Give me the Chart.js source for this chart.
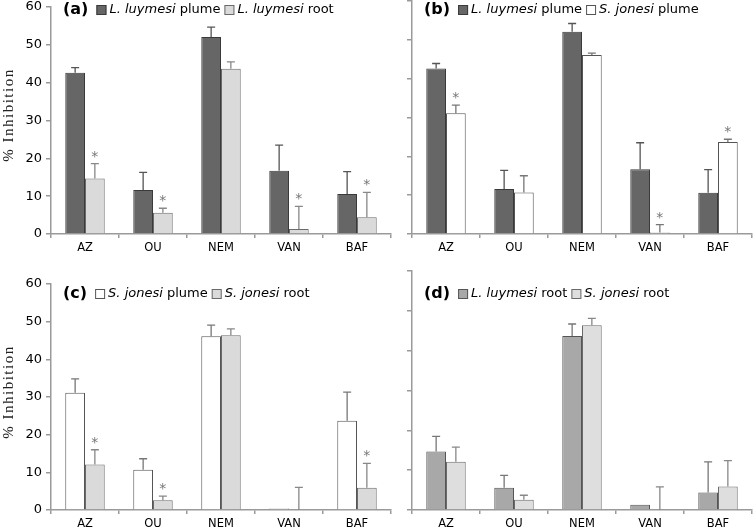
<!DOCTYPE html>
<html>
<head>
<meta charset="utf-8">
<script src="https://cdn.jsdelivr.net/npm/chart.js@4.4.0/dist/chart.umd.min.js"></script>
<style>
  body { margin: 0; background: #fff; }
  #wrap { position: relative; width: 756px; height: 532px; }
  .panel { position: absolute; }
</style>
</head>
<body>
<div id="wrap">
  <div class="panel" style="left:0;top:0;width:393px;height:262px"><canvas id="chartA"></canvas></div>
  <div class="panel" style="left:393px;top:0;width:363px;height:262px"><canvas id="chartB"></canvas></div>
  <div class="panel" style="left:0;top:262px;width:393px;height:270px"><canvas id="chartC"></canvas></div>
  <div class="panel" style="left:393px;top:262px;width:363px;height:270px"><canvas id="chartD"></canvas></div>
</div>
<script>
// data
const categories = ['AZ', 'OU', 'NEM', 'VAN', 'BAF'];
const yMax = 60;
const yStep = 10;

// mean % inhibition
const llPlume = [42.6, 11.6, 52.1, 16.7, 10.6];
const llRoot  = [14.7, 5.6, 43.7, 1.3, 4.4];
const sjPlume = [31.1, 10.7, 46.1, 0.4, 23.7];
const sjRoot  = [12.1, 2.6, 46.4, 0, 5.9];

// error bars (upper half only), per panel
const errA_llPlume = [1.4, 4.7, 2.6, 6.8, 5.9];
const errA_llRoot  = [3.9, 1.2, 1.8, 6.0, 6.6];
const errB_llPlume = [1.3, 4.8, 2.1, 6.8, 6.0];
const errB_sjPlume = [2.1, 4.3, 0.5, 2.0, 0.7];
const errC_sjPlume = [3.7, 2.9, 3.0, 0, 7.6];
const errC_sjRoot  = [3.9, 1.1, 1.7, 6.0, 6.5];
const errD_llRoot  = [3.8, 3.1, 3.0, 0, 7.7];
const errD_sjRoot  = [3.7, 1.1, 1.7, 5.8, 6.5];

// significance asterisks
const starsA = [1, 1, 0, 1, 1];
const starsB = [1, 0, 0, 1, 1];
const starsC = [1, 1, 0, 0, 1];

const FONT = '"DejaVu Sans", Verdana, sans-serif';
const AXIS = '#9a9a9a';

// error bars + asterisks
const errorBars = {
    id: 'errorBars',
    afterDatasetsDraw(chart) {
        const ctx = chart.ctx;
        const y = chart.scales.y;
        chart.data.datasets.forEach((ds, di) => {
            const meta = chart.getDatasetMeta(di);
            meta.data.forEach((bar, i) => {
                const err = ds.errors ? ds.errors[i] : 0;
                const top = y.getPixelForValue(ds.data[i] + err);
                if (err > 0) {
                    ctx.save();
                    ctx.strokeStyle = ds.errColor;
                    ctx.lineWidth = 1.3;
                    ctx.beginPath();
                    ctx.moveTo(bar.x, bar.y);
                    ctx.lineTo(bar.x, top);
                    ctx.moveTo(bar.x - 4, top);
                    ctx.lineTo(bar.x + 4, top);
                    ctx.stroke();
                    ctx.restore();
                }
                if (ds.stars && ds.stars[i]) {
                    ctx.save();
                    ctx.fillStyle = '#777';
                    ctx.font = '14px ' + FONT;
                    ctx.textAlign = 'center';
                    ctx.textBaseline = 'alphabetic';
                    ctx.fillText('*', bar.x, top - 11 + 8);
                    ctx.restore();
                }
            });
        });
    }
};

// "(a) [] L. luymesi plume [] ..." legend inside plot
const panelLegend = {
    id: 'panelLegend',
    afterDraw(chart, args, opts) {
        if (!opts.tag) return;
        const ctx = chart.ctx;
        const cy = opts.y;
        let x = chart.chartArea.left + 12;
        ctx.save();
        ctx.textBaseline = 'middle';
        ctx.fillStyle = '#000';
        ctx.font = 'bold 16px ' + FONT;
        ctx.fillText(opts.tag, x, cy);
        x += ctx.measureText(opts.tag).width + 8;
        opts.items.forEach(it => {
            ctx.fillStyle = it.color;
            ctx.fillRect(x, cy - 5, 10, 10);
            ctx.strokeStyle = it.border;
            ctx.lineWidth = 1;
            ctx.strokeRect(x + 0.5, cy - 4.5, 9, 9);
            x += 13;
            ctx.fillStyle = '#000';
            ctx.font = 'italic 13px ' + FONT;
            ctx.fillText(it.sp, x, cy);
            x += ctx.measureText(it.sp).width;
            ctx.font = '13px ' + FONT;
            ctx.fillText(it.rest, x, cy);
            x += ctx.measureText(it.rest).width + 4;
        });
        ctx.restore();
    }
};

// rotated, letter-spaced serif axis title
const yTitle = {
    id: 'yTitle',
    afterDraw(chart, args, opts) {
        if (!opts.text) return;
        const ctx = chart.ctx;
        ctx.save();
        ctx.translate(opts.x, opts.y);
        ctx.rotate(-Math.PI / 2);
        ctx.font = '15px "Liberation Serif", "Times New Roman", serif';
        if ('letterSpacing' in ctx) ctx.letterSpacing = '1.5px';
        ctx.fillStyle = '#222';
        ctx.textAlign = 'center';
        ctx.textBaseline = 'middle';
        ctx.fillText(opts.text, 0, 0);
        ctx.restore();
    }
};

function bars(label, data, errors, color, border, errColor, stars) {
    return {
        label: label,
        data: data,
        errors: errors,
        stars: stars,
        errColor: errColor,
        backgroundColor: color,
        borderColor: border,
        borderWidth: 1,
        categoryPercentage: 0.58,
        barPercentage: 1.0
    };
}

function makeChart(id, datasets, cfg) {
    return new Chart(document.getElementById(id).getContext('2d'), {
        type: 'bar',
        data: { labels: categories, datasets: datasets },
        plugins: [errorBars, panelLegend, yTitle],
        options: {
            responsive: true,
            maintainAspectRatio: false,
            animation: false,
            layout: { padding: { top: cfg.top, right: cfg.right, left: 0, bottom: 0 } },
            plugins: {
                legend: { display: false },
                tooltip: { enabled: false },
                panelLegend: cfg.legend,
                yTitle: cfg.title || {}
            },
            scales: {
                x: {
                    offset: true,
                    grid: { offset: true, drawOnChartArea: false, tickLength: 4, color: AXIS, lineWidth: 1.5 },
                    border: { color: AXIS, width: 1.5 },
                    ticks: { color: '#000', font: { family: FONT, size: 11.5 }, padding: 3, maxRotation: 0 },
                    afterFit: s => { s.height = cfg.xh; s.paddingLeft = 0; s.paddingRight = 0; }
                },
                y: {
                    min: 0,
                    max: yMax,
                    grid: { drawOnChartArea: false, tickLength: 5, color: AXIS, lineWidth: 1.5 },
                    border: { color: AXIS, width: 1.5 },
                    ticks: { stepSize: yStep, display: cfg.yLabels, color: '#000', font: { family: FONT, size: 13 }, padding: 4 },
                    afterFit: s => { s.width = cfg.yw; s.paddingTop = 0; s.paddingBottom = 0; }
                }
            }
        }
    });
}

const DARK = '#666666', DARK_B = '#3a3a3a';
const LIGHT = '#dadada', LIGHT_B = '#6a6a6a';
const WHITE = '#ffffff', WHITE_B = '#555555';
const MID = '#a8a8a8', MID_B = '#555555';

makeChart('chartA', [
    bars('L. luymesi plume', llPlume, errA_llPlume, DARK, DARK_B, '#555', null),
    bars('L. luymesi root', llRoot, errA_llRoot, LIGHT, LIGHT_B, '#888', starsA)
], {
    top: 7, right: 2, xh: 28, yw: 51, yLabels: true,
    legend: { tag: '(a)', y: 10, items: [
        { sp: 'L. luymesi', rest: ' plume', color: DARK, border: DARK_B },
        { sp: 'L. luymesi', rest: ' root', color: LIGHT, border: LIGHT_B }
    ] },
    title: { text: '% Inhibition', x: 9, y: 115 }
});

makeChart('chartB', [
    bars('L. luymesi plume', llPlume, errB_llPlume, DARK, DARK_B, '#555', null),
    bars('S. jonesi plume', sjPlume, errB_sjPlume, WHITE, WHITE_B, '#777', starsB)
], {
    top: 1, right: 4, xh: 28, yw: 19, yLabels: false,
    legend: { tag: '(b)', y: 10, items: [
        { sp: 'L. luymesi', rest: ' plume', color: DARK, border: DARK_B },
        { sp: 'S. jonesi', rest: ' plume', color: WHITE, border: WHITE_B }
    ] }
});

makeChart('chartC', [
    bars('S. jonesi plume', sjPlume, errC_sjPlume, WHITE, WHITE_B, '#777', null),
    bars('S. jonesi root', sjRoot, errC_sjRoot, LIGHT, LIGHT_B, '#888', starsC)
], {
    top: 22, right: 2, xh: 22, yw: 51, yLabels: true,
    legend: { tag: '(c)', y: 32, items: [
        { sp: 'S. jonesi', rest: ' plume', color: WHITE, border: WHITE_B },
        { sp: 'S. jonesi', rest: ' root', color: LIGHT, border: LIGHT_B }
    ] },
    title: { text: '% Inhibition', x: 9, y: 130 }
});

makeChart('chartD', [
    bars('L. luymesi root', llRoot, errD_llRoot, MID, MID_B, '#777', null),
    bars('S. jonesi root', sjRoot, errD_sjRoot, '#dedede', LIGHT_B, '#888', null)
], {
    top: 9, right: 4, xh: 22, yw: 19, yLabels: false,
    legend: { tag: '(d)', y: 32, items: [
        { sp: 'L. luymesi', rest: ' root', color: MID, border: MID_B },
        { sp: 'S. jonesi', rest: ' root', color: '#dedede', border: LIGHT_B }
    ] }
});
</script>
</body>
</html>
